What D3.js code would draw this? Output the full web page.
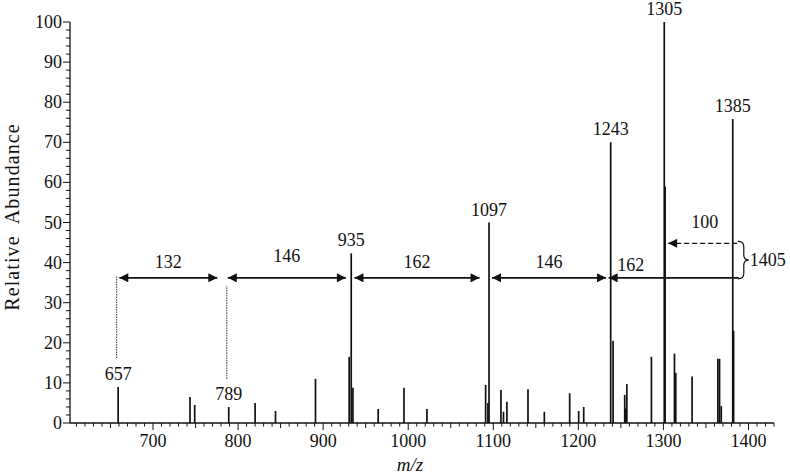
<!DOCTYPE html>
<html><head><meta charset="utf-8">
<script src="https://cdn.jsdelivr.net/npm/d3@7"></script>
<style>
body{margin:0;background:#fff;}
text{font-family:"Liberation Serif","Times New Roman",serif;fill:#111;}
</style></head>
<body><svg id="c" width="790" height="474"></svg>
<script>
// peak list (m/z, relative abundance)
const peakMz = [659,743.5,749,789,820,844,891,930.6,933,935,964.7,995,1022,
  1091,1093.7,1095,1109,1112,1116,1140.8,1160,1189.8,1200.4,1206.3,
  1238,1240.8,1254.5,1255.7,1257,1285.9,1301,1302,1313,1314.5,1333.7,
  1364,1366,1368,1381.5,1382.5];
const peakInt = [9,6.5,4.5,4,5,3,11,16.5,42.3,8.8,3.5,8.8,3.5,
  9.5,5,50,8.2,2.8,5.3,8.4,2.8,7.4,3,4,
  70,20.5,7,3.6,9.7,16.5,100,59,17.3,12.5,11.6,
  16,16,4.2,75.8,23];
// labelled peaks
const labelMz = [659,789,933,1095,1238,1301,1381.5];
const labelInt = [9,4,42.3,50,70,100,75.8];
const labelText = ["657","789","935","1097","1243","1305","1385"];
// neutral-loss arrows
const arrowFrom = [660.4,787.9,936.8,1098.5,1235.6];
const arrowTo   = [775.6,926.7,1083.9,1232.6,1388.6];
const arrowText = ["132","146","162","146","162"];
const arrowLevel = 36.2;
// dotted guide lines
const guideMz = [657.3,786.7];
const guideLo = [16.2,11];
const guideHi = [36.5,34.2];
// dashed loss of 100 and precursor bracket
const dashFrom = 1386.7, dashTo = 1305.5, dashLevel = 44.8, dashText = "100";
const bracketText = "1405";
const xTicks = [700,800,900,1000,1100,1200,1300,1400];
const yTicks = [0,10,20,30,40,50,60,70,80,90,100];

const svg = d3.select("#c");
const x = d3.scaleLinear().domain([602.4,1430]).range([70,774]);
const y = d3.scaleLinear().domain([0,100]).range([423,22]);

const defs = svg.append("defs");
defs.append("marker").attr("id","ah").attr("viewBox","0 0 10 10").attr("refX",10).attr("refY",5)
  .attr("markerWidth",11).attr("markerHeight",9).attr("markerUnits","userSpaceOnUse")
  .attr("orient","auto-start-reverse").append("path").attr("d","M0,0L10,5L0,10z").attr("fill","#111");

// axes
const xMinor = d3.range(610,1431,10);
const gx = svg.append("g").attr("transform","translate(0,423)");
gx.append("line").attr("x1",70).attr("x2",774).attr("stroke","#111").attr("stroke-width",1.3);
gx.selectAll("line.t").data(xMinor).join("line").attr("class","t")
  .attr("x1",d=>x(d)).attr("x2",d=>x(d)).attr("y1",0)
  .attr("y2",d=>d%100===0?7:(d%50===0?5:3.5)).attr("stroke","#111").attr("stroke-width",1);
gx.selectAll("text").data(xTicks).join("text").attr("x",d=>x(d)).attr("y",24)
  .attr("text-anchor","middle").attr("font-size",18).text(d=>d);

const gy = svg.append("g").attr("transform","translate(70,0)");
gy.append("line").attr("y1",y(0)).attr("y2",y(100)).attr("stroke","#111").attr("stroke-width",1.3);
gy.selectAll("line.t").data(d3.range(0,101,2)).join("line").attr("class","t")
  .attr("x1",d=>d%10===0?-7:-4).attr("x2",0).attr("y1",d=>y(d)).attr("y2",d=>y(d))
  .attr("stroke","#111").attr("stroke-width",1);
gy.selectAll("text").data(yTicks).join("text").attr("x",-8).attr("y",d=>y(d)+6)
  .attr("text-anchor","end").attr("font-size",18).text(d=>d);

svg.append("text").attr("transform","translate(19,217) rotate(-90)").attr("text-anchor","middle")
  .attr("font-size",20).attr("letter-spacing",1.1).style("white-space","pre").text("Relative  Abundance");
svg.append("text").attr("x",410).attr("y",471).attr("text-anchor","middle").attr("font-size",19)
  .attr("font-style","italic").text("m/z");

// peaks
svg.append("g").selectAll("line").data(peakMz).join("line")
  .attr("x1",d=>x(d)).attr("x2",d=>x(d)).attr("y1",y(0)).attr("y2",(d,i)=>y(peakInt[i]))
  .attr("stroke","#111").attr("stroke-width",1.7);

svg.append("g").selectAll("text").data(labelMz).join("text")
  .attr("x",d=>x(d)).attr("y",(d,i)=>y(labelInt[i])-7).attr("text-anchor","middle")
  .attr("font-size",18).text((d,i)=>labelText[i]);

// guides
svg.append("g").selectAll("line").data(guideMz).join("line")
  .attr("x1",d=>x(d)).attr("x2",d=>x(d)).attr("y1",(d,i)=>y(guideLo[i])).attr("y2",(d,i)=>y(guideHi[i]))
  .attr("stroke","#333").attr("stroke-width",1).attr("stroke-dasharray","1.5,1");

// arrows
const ag = svg.append("g");
arrowFrom.forEach((f,i)=>{
  const l = ag.append("line").attr("x1",x(f)).attr("x2",x(arrowTo[i])).attr("y1",y(arrowLevel)).attr("y2",y(arrowLevel))
    .attr("stroke","#111").attr("stroke-width",1.6).attr("marker-start","url(#ah)");
  if(i<arrowFrom.length-1) l.attr("marker-end","url(#ah)");
  const lx = i===4 ? x(f)+22 : (x(f)+x(arrowTo[i]))/2;
  ag.append("text").attr("x",lx).attr("y",y(arrowLevel)-(i===1?16:i===4?7:10)).attr("text-anchor","middle")
    .attr("font-size",18).text(arrowText[i]);
});
ag.append("line").attr("x1",x(dashFrom)).attr("x2",x(dashTo)).attr("y1",y(dashLevel)).attr("y2",y(dashLevel))
  .attr("stroke","#111").attr("stroke-width",1.4).attr("stroke-dasharray","5,3").attr("marker-end","url(#ah)");
ag.append("text").attr("x",(x(dashFrom)+x(dashTo))/2+2).attr("y",y(dashLevel)-15).attr("text-anchor","middle")
  .attr("font-size",18).text(dashText);

// bracket
const bx0 = x(arrowTo[4])-1, bt = y(dashLevel)-2, bb = y(arrowLevel)+1, bm = (bt+bb)/2, br = bx0+6, tip = bx0+11;
ag.append("path").attr("fill","none").attr("stroke","#111").attr("stroke-width",1.2)
  .attr("d",`M${bx0},${bt}Q${br},${bt} ${br},${bt+5}L${br},${bm-5}Q${br},${bm} ${tip},${bm}Q${br},${bm} ${br},${bm+5}L${br},${bb-5}Q${br},${bb} ${bx0},${bb}`);
ag.append("text").attr("x",tip+1).attr("y",bm+6).attr("font-size",18).text(bracketText);
</script></body></html>
